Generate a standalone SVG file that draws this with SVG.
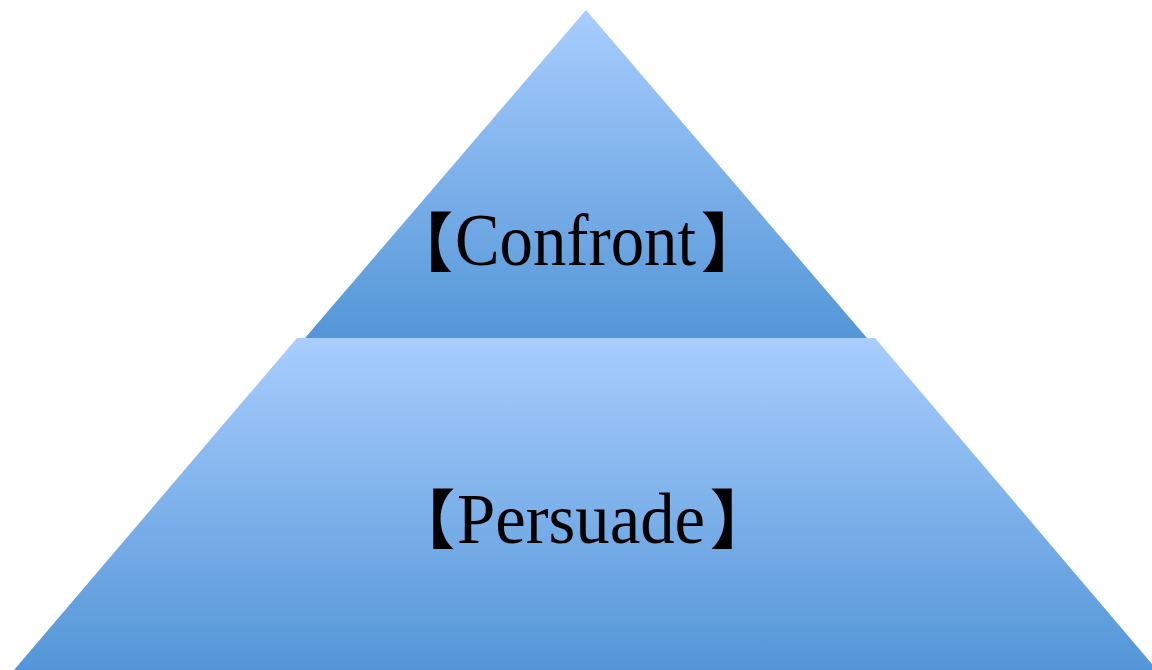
<svg xmlns="http://www.w3.org/2000/svg" width="1152" height="670" viewBox="0 0 1152 670">
<style>
.word{font-family:"Liberation Serif",serif;fill:#000;}
.br{font-family:"Noto Sans CJK SC","Noto Sans CJK JP",sans-serif;fill:#000;font-weight:bold;font-size:64px;}
</style>
<defs>
<linearGradient id="g1" x1="0" y1="0" x2="0" y2="1">
<stop offset="0" stop-color="#a9cdfe"/>
<stop offset="1" stop-color="#5396d7"/>
</linearGradient>
</defs>
<rect width="1152" height="670" fill="#fff"/>
<g id="persuade">
<polygon points="297,338 875,338 1157,670 14,670" fill="url(#g1)"/>
<text class="word" y="543" font-size="71"><tspan class="br" x="391">【</tspan><tspan x="457" textLength="248" lengthAdjust="spacingAndGlyphs">Persuade</tspan><tspan class="br" x="710">】</tspan></text>
</g>
<g id="confront">
<polygon points="586,10 867,338 305,338" fill="url(#g1)"/>
<text class="word" y="265" font-size="74"><tspan class="br" x="389" y="266">【</tspan><tspan x="455" y="265" textLength="241" lengthAdjust="spacingAndGlyphs">Confront</tspan><tspan class="br" x="701" y="266">】</tspan></text>
</g>
<g id="connectors"/>
</svg>
